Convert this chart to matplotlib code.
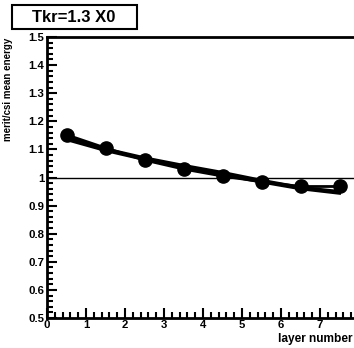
import matplotlib.pyplot as plt
import numpy as np
from matplotlib.patches import Rectangle
from matplotlib.ticker import MultipleLocator

plt.rcParams['font.family'] = ['Liberation Sans', 'DejaVu Sans']
plt.rcParams['font.weight'] = 'bold'

# layer centres and mean-energy ratio per layer
layers = [0.5, 1.5, 2.5, 3.5, 4.5, 5.5, 6.5, 7.5]
ratio_pts = [1.152, 1.105, 1.062, 1.030, 1.005, 0.985, 0.968, 0.968]
ratio_a = [1.142, 1.102, 1.070, 1.043, 1.018, 0.990, 0.965, 0.950]
ratio_b = [1.135, 1.096, 1.064, 1.036, 1.010, 0.984, 0.960, 0.944]

xticks = [0, 1, 2, 3, 4, 5, 6, 7, 8]
yticks = [0.5, 0.6, 0.7, 0.8, 0.9, 1.0, 1.1, 1.2, 1.3, 1.4, 1.5]
ylabels = ['0.5', '0.6', '0.7', '0.8', '0.9', '1', '1.1', '1.2', '1.3', '1.4', '1.5']

W, H = 354, 348
fig = plt.figure(figsize=(W / 100, H / 100), dpi=100)

# frame runs from x=0..8 past the right edge of the canvas
x0, x1, y0, y1 = 47, 359, 37, 318
ax = fig.add_axes([x0 / W, 1 - y1 / H, (x1 - x0) / W, (y1 - y0) / H])

ax.plot(layers, ratio_a, color='black', lw=2.2, zorder=3)
ax.plot(layers, ratio_b, color='black', lw=2.2, zorder=3)
ax.plot(layers, ratio_pts, color='black', lw=2.0, marker='o', ms=9.5, zorder=4)
ax.axhline(1.0, color='black', lw=1.0, zorder=2)

ax.set_xlim(0, 8)
ax.set_ylim(0.5, 1.5)
ax.set_xticks(xticks)
ax.set_xticklabels([str(t) for t in xticks])
ax.set_yticks(yticks)
ax.set_yticklabels(ylabels)
ax.xaxis.set_minor_locator(MultipleLocator(0.2))
ax.yaxis.set_minor_locator(MultipleLocator(0.02))

ax.tick_params(which='both', direction='in', top=False, right=False, width=1.5)
ax.tick_params(which='major', length=7.5, labelsize=8.2)
ax.tick_params(axis='y', which='major', pad=2)
ax.tick_params(axis='x', which='major', pad=1.5)
ax.tick_params(which='minor', length=4)
for s in ax.spines.values():
    s.set_linewidth(2)

fig.text(8 / W, 1 - 37.5 / H, 'merit/csi mean energy', rotation=90,
         ha='center', va='top', fontsize=7, fontweight='bold')
fig.text(278 / W, 1 - 342 / H, 'layer number', ha='left', va='baseline',
         fontsize=8.6, fontweight='bold')

# title box
fig.patches.append(Rectangle((12 / W, 1 - 29 / H), 125 / W, 24 / H,
                             transform=fig.transFigure, fill=False,
                             lw=1.5, ec='black'))
fig.text(74 / W, 1 - 17.5 / H, 'Tkr=1.3 X0', ha='center', va='center',
         fontsize=12, fontweight='bold')

fig.savefig('out.png', dpi=100)
